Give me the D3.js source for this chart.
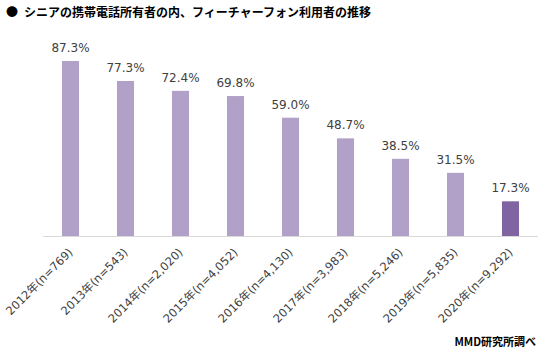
<!DOCTYPE html>
<html><head><meta charset="utf-8">
<script src="https://cdn.jsdelivr.net/npm/d3@7"></script>
<style>body{margin:0;background:#fff}svg{display:block;font-family:"Noto Sans CJK JP","Noto Sans",sans-serif}</style>
</head><body>
<script>
const categories = ["2012年(n=769)","2013年(n=543)","2014年(n=2,020)","2015年(n=4,052)","2016年(n=4,130)","2017年(n=3,983)","2018年(n=5,246)","2019年(n=5,835)","2020年(n=9,292)"];
const values = [87.3,77.3,72.4,69.8,59.0,48.7,38.5,31.5,17.3];
const title = "シニアの携帯電話所有者の内、フィーチャーフォン利用者の推移";
const source = "MMD研究所調べ";

const W=542,H=359;
const svg=d3.select("body").append("svg").attr("width",W).attr("height",H);
const x=d3.scaleBand().domain(categories).range([43,538]).paddingInner(0.69).paddingOuter(0.345);
const y=d3.scaleLinear().domain([0,100]).range([236,35.5]);

svg.append("text").attr("x",6).attr("y",17).attr("font-size",12).attr("fill","#000").text("●");
svg.append("text").attr("x",24).attr("y",17).attr("font-size",12).attr("font-weight","bold").attr("fill","#000").text(title);

svg.append("line").attr("x1",43).attr("x2",538).attr("y1",236.5).attr("y2",236.5).attr("stroke","#d9d9d9");

svg.selectAll("rect.bar").data(values).join("rect").attr("class","bar")
 .attr("x",(d,i)=>x(categories[i])).attr("width",x.bandwidth())
 .attr("y",d=>y(d)).attr("height",d=>y(0)-y(d))
 .attr("fill",(d,i)=>i===values.length-1?"#8064a2":"#b1a0c7");

svg.selectAll("text.val").data(values).join("text").attr("class","val")
 .attr("x",(d,i)=>x(categories[i])+x.bandwidth()/2).attr("y",d=>y(d)-9)
 .attr("text-anchor","middle").attr("font-size",12).attr("fill","#404040")
 .attr("font-family","'DejaVu Sans','Noto Sans CJK JP',sans-serif")
 .text(d=>d.toFixed(1)+"%");

svg.selectAll("text.cat").data(categories).join("text").attr("class","cat")
 .attr("transform",d=>`translate(${x(d)+x.bandwidth()/2+3},${253}) rotate(-45)`)
 .attr("text-anchor","end").attr("font-size",11.5).attr("fill","#404040")
 .attr("font-family","'DejaVu Sans','Noto Sans CJK JP',sans-serif").text(d=>d);

svg.append("text").attr("x",536).attr("y",346).attr("text-anchor","end").attr("font-size",11).attr("font-weight","bold").attr("fill","#000").text(source);
</script>
</body></html>
